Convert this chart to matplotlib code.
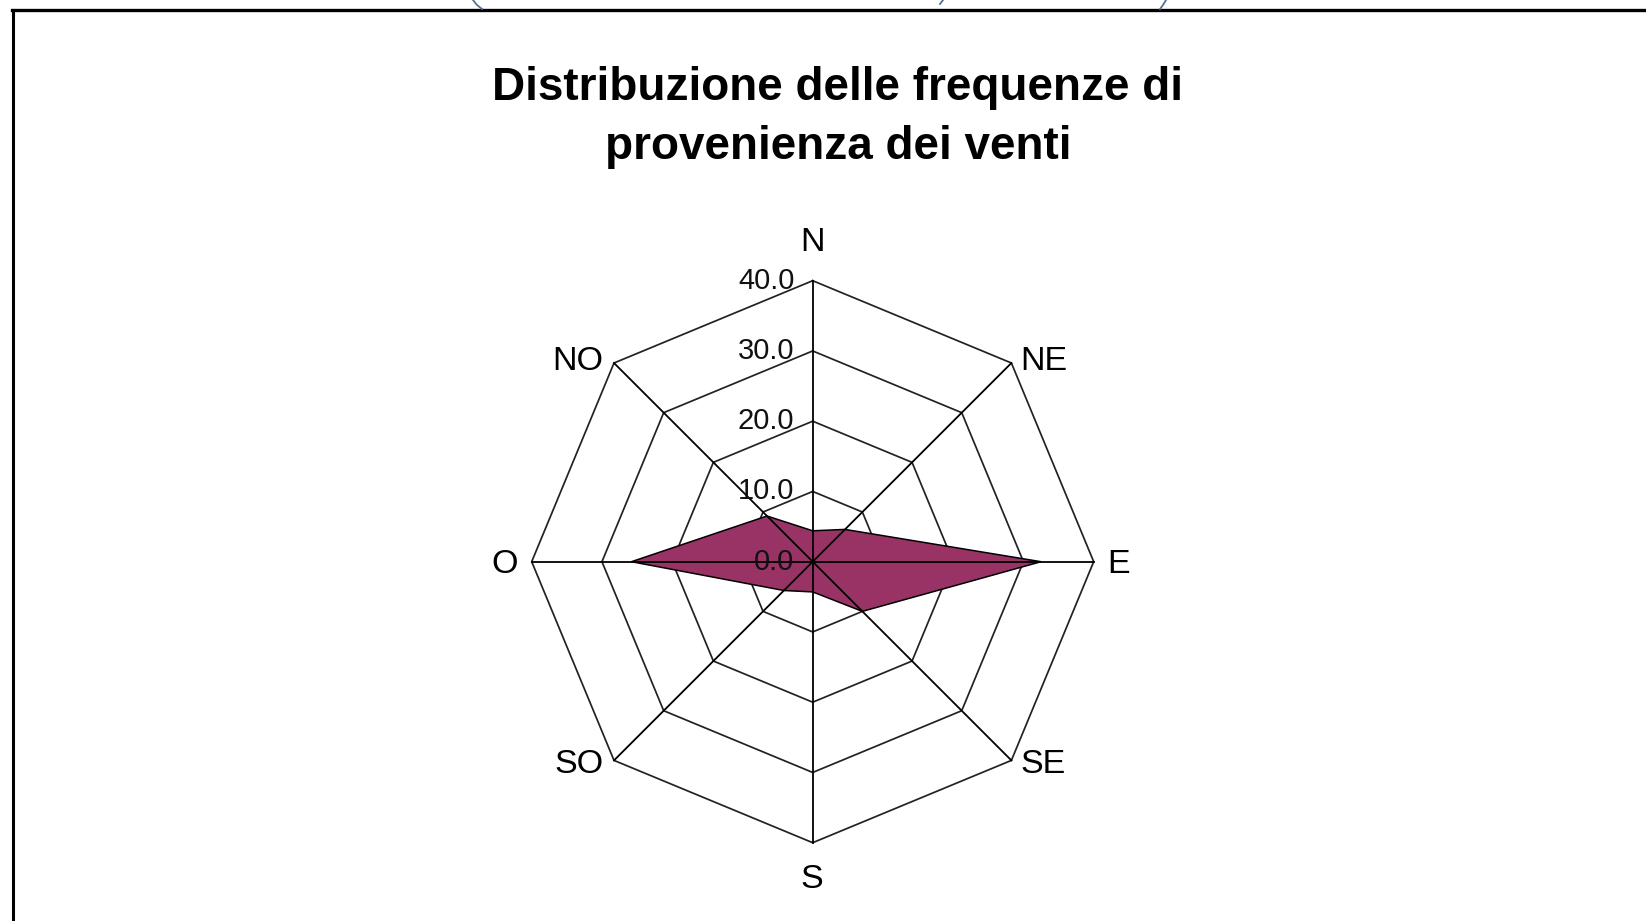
import numpy as np
import matplotlib.pyplot as plt
from matplotlib.lines import Line2D

plt.rcParams['font.family'] = ['Liberation Sans', 'DejaVu Sans']

# data
directions = ['N', 'NE', 'E', 'SE', 'S', 'SO', 'O', 'NO']
freq = [4.4, 6.5, 32.5, 10.0, 4.3, 5.8, 25.8, 9.2]
rings = [0, 10, 20, 30, 40]
ring_labels = ['0.0', '10.0', '20.0', '30.0', '40.0']
title = 'Distribuzione delle frequenze di\nprovenienza dei venti'

W, H = 1646, 921
fig = plt.figure(figsize=(W / 100, H / 100), dpi=100)

# axes placed so the centre sits at (812.7, 561.7) px, 40 units = 281 px
pxu = 281 / 40.0
half = 50 * pxu
cx, cy = 812.7, H - 561.7
ax = fig.add_axes([(cx - half) / W, (cy - half) / H, 2 * half / W, 2 * half / H])
ax.set_xlim(-50, 50)
ax.set_ylim(-50, 50)
ax.set_aspect('equal')
ax.axis('off')

theta = np.arange(len(directions)) * 2 * np.pi / len(directions)
sx, sy = np.sin(theta), np.cos(theta)

# octagonal grid
for r in rings[1:]:
    ax.plot(np.append(r * sx, r * sx[0]), np.append(r * sy, r * sy[0]),
            color='#222222', lw=1.25, zorder=1)

# data polygon
v = np.array(freq)
ax.fill(v * sx, v * sy, facecolor='#993366', edgecolor='black', lw=1.1, zorder=2)

# spokes
rmax = rings[-1]
for i in range(len(directions)):
    ax.plot([0, rmax * sx[i]], [0, rmax * sy[i]], color='black', lw=1.3, zorder=3)

# ring labels along N spoke
for r, lab in zip(rings, ring_labels):
    ax.text(-2.6, r, lab, ha='right', va='center', fontsize=21, color='#111111', zorder=4)

# direction labels
lab_pos = {
    'N': (0, 45.45, 'center'), 'NE': (29.6, 28.55, 'left'), 'E': (41.9, -0.35, 'left'),
    'SE': (29.6, -28.85, 'left'), 'S': (-0.2, -45.25, 'center'), 'SO': (-29.8, -28.85, 'right'),
    'O': (-42.0, -0.35, 'right'), 'NO': (-29.8, 28.55, 'right'),
}
for d in directions:
    x, y, ha = lab_pos[d]
    ax.text(x, y, d, ha=ha, va='center', fontsize=24.5, clip_on=False)

fig.text(838 / W, 1 - 117.7 / H, title, ha='center', va='center',
         fontsize=33, fontweight='bold', linespacing=1.45)

# frame (top and left edges)
fig.add_artist(Line2D([12 / W, 1], [1 - 10.5 / H] * 2, color='black', lw=2.4))
fig.add_artist(Line2D([12.5 / W] * 2, [0, 1 - 10.5 / H], color='black', lw=2.2))
# bits of the shape cut off above the frame
for xs, ys in [([473, 477, 482], [0, 5, 9]), ([1166, 1163, 1160], [0, 5, 9]), ([943, 940], [0, 4])]:
    fig.add_artist(Line2D([x / W for x in xs], [1 - y / H for y in ys], color='#5a6f96', lw=1.3))

fig.savefig('out.png', dpi=100)
